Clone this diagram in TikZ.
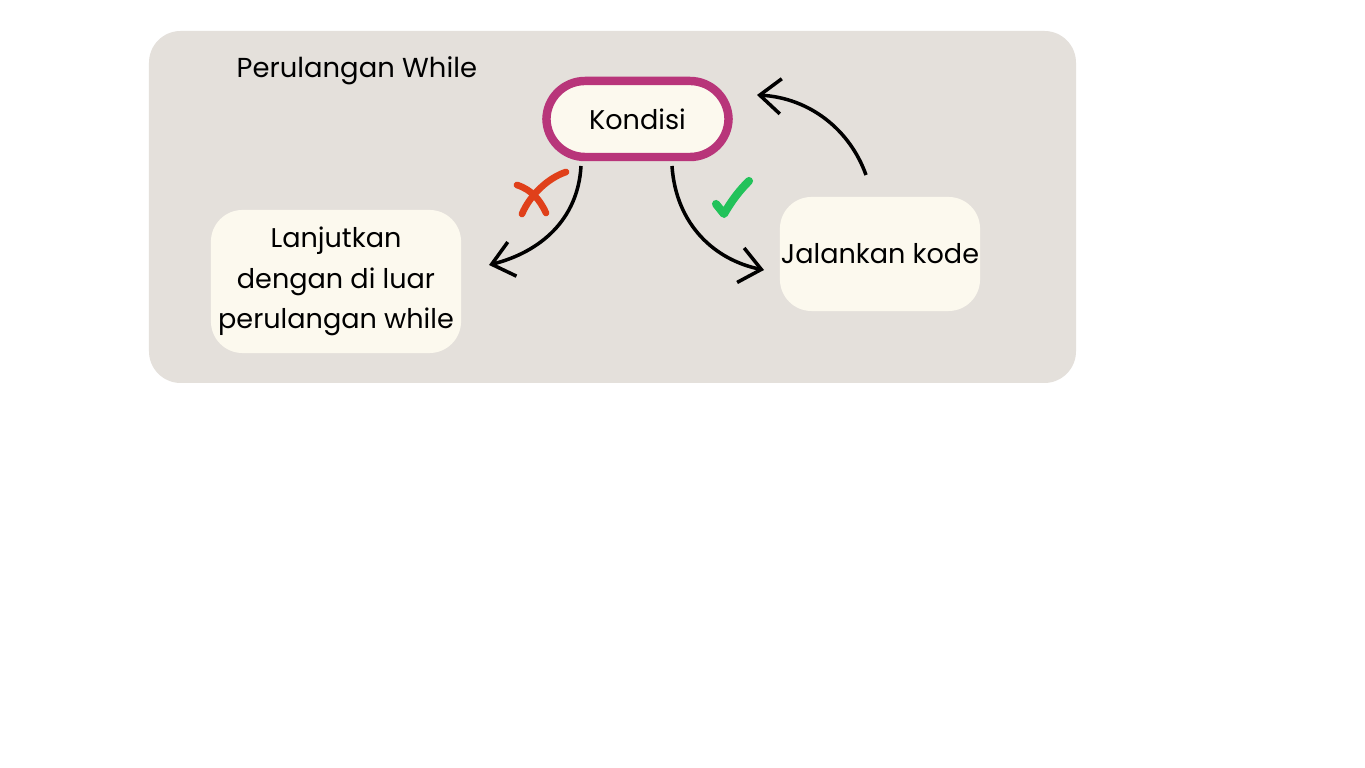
\documentclass[tikz,border=0pt]{standalone}
\usepackage{fontspec}
\setmainfont{Poppins}
\usetikzlibrary{arrows.meta}
\definecolor{panel}{HTML}{E4E0DB}
\definecolor{boxfill}{HTML}{FCF9EE}
\definecolor{magenta}{HTML}{B8357A}
\definecolor{xred}{HTML}{E0401A}
\definecolor{okgreen}{HTML}{22C25A}
\tikzset{
  box/.style={fill=boxfill, rounded corners=9pt, inner sep=0pt, align=center, font=\fontsize{7.7}{11.6}\selectfont},
  conn/.style={line width=1pt, -{Straight Barb[length=6pt,width=10pt,line width=1pt]}},
  mark stroke/.style={line cap=round, line join=round},
}
\begin{document}
\begin{tikzpicture}[x=0.01cm,y=-0.01cm]
\useasboundingbox (0,0) rectangle (1365,768);
\fill[white] (0,0) rectangle (1365,768);
\fill[panel, rounded corners=9pt] (149,31) rectangle (1076,383);
\node[anchor=west, inner sep=0pt, font=\fontsize{7.8}{10}\selectfont] (title) at (236,71) {Perulangan While};
\node[box, draw=magenta, line width=2.4pt, rounded corners=11pt, minimum width=1.82cm, minimum height=0.76cm] (kond) at (637.5,119) {Kondisi};
\node[box, minimum width=2.50cm, minimum height=1.43cm] (lanj) at (336,281.5) {Lanjutkan\\dengan di luar\\perulangan while};
\node[box, minimum width=2.00cm, minimum height=1.14cm] (jal) at (880,254) {Jalankan kode};
\coordinate (kl) at (581,166);
\coordinate (kr) at (672,166);
\coordinate (lt) at (489,265);
\coordinate (jt) at (764,270);
\coordinate (js) at (866,175);
\coordinate (kt) at (757,95);
\draw[conn] (kl) .. controls (578,220) and (540,252) .. (lt);
\draw[conn] (kr) .. controls (676,225) and (715,260) .. (jt);
\draw[conn] (js) .. controls (850,130) and (810,98) .. (kt);
% red cross
\draw[xred, mark stroke, line width=1.9pt] (517,185) .. controls (532,190) and (540,200) .. (546,213);
\draw[xred, mark stroke, line width=1.9pt] (566,172) .. controls (548,178) and (530,195) .. (522,214);
% green check
\draw[okgreen, mark stroke, line width=2.3pt] (716,204) -- (724,214) .. controls (732,200) and (740,190) .. (749,181);
\end{tikzpicture}
\end{document}
